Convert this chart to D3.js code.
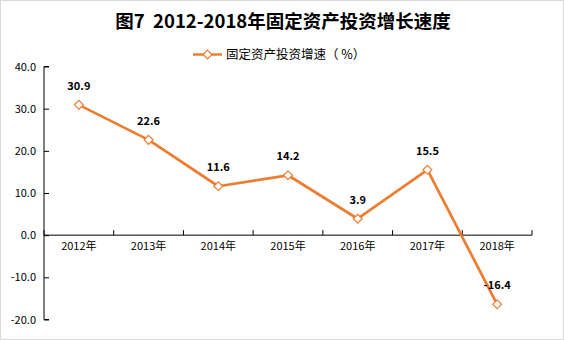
<!DOCTYPE html>
<html>
<head>
<meta charset="utf-8">
<script src="https://cdn.jsdelivr.net/npm/d3@7"></script>
<style>
  html, body { margin: 0; padding: 0; background: #fff; }
  svg { display: block; }
  text { font-family: "Noto Sans CJK SC", "Noto Sans", sans-serif; }
</style>
</head>
<body>
<svg id="chart" width="564" height="340"></svg>
<script>
// Growth rate of fixed asset investment, 2012-2018 (%)
const years = ["2012年", "2013年", "2014年", "2015年", "2016年", "2017年", "2018年"];
const growth = [30.9, 22.6, 11.6, 14.2, 3.9, 15.5, -16.4];
const yTicks = [40, 30, 20, 10, 0, -10, -20];
const titleText = "图7  2012-2018年固定资产投资增长速度";
const seriesName = "固定资产投资增速（ %）";

const W = 564, H = 340;
const color = "#ED7D31";
const svg = d3.select("#chart");

// plain hyphen for negatives, one decimal
const fmt = v => v.toFixed(1);

// outer frame
svg.append("rect")
  .attr("x", 0.5).attr("y", 0.5)
  .attr("width", W - 1).attr("height", H - 1)
  .attr("fill", "#fff").attr("stroke", "#d9d9d9");

const x = d3.scaleBand().domain(years).range([44, 532]);
const y = d3.scaleLinear().domain([-20, 40]).range([319.5, 66.5]);

// title
svg.append("text")
  .attr("x", 283).attr("y", 28)
  .attr("text-anchor", "middle")
  .attr("font-size", 18.5).attr("font-weight", "bold")
  .attr("fill", "#000")
  .style("white-space", "pre")
  .text(titleText);

// legend
const lg = svg.append("g");
lg.append("line")
  .attr("x1", 193).attr("x2", 222).attr("y1", 54.5).attr("y2", 54.5)
  .attr("stroke", color).attr("stroke-width", 2.5);
lg.append("path")
  .attr("d", d3.symbol(d3.symbolDiamond2, 50)())
  .attr("transform", "translate(207.5,54.5)")
  .attr("fill", "#fff").attr("stroke", color).attr("stroke-width", 1.2);
lg.append("text")
  .attr("x", 226).attr("y", 59)
  .attr("font-size", 12.5).attr("fill", "#000")
  .style("white-space", "pre")
  .text(seriesName);

// y axis (ticks pointing inward)
const yAxis = d3.axisRight(y).tickValues(yTicks).tickSize(5).tickFormat(fmt);
const gy = svg.append("g").attr("transform", "translate(44,0)").call(yAxis);
gy.select(".domain").attr("stroke", "#000").attr("d", `M5,${y(40)}H0V${y(-20)}H5`);
gy.selectAll(".tick line").attr("stroke", "#000");
gy.selectAll(".tick text")
  .attr("x", -8).attr("text-anchor", "end")
  .attr("font-size", 11).attr("fill", "#000")
  .attr("font-family", "'Liberation Sans', 'Noto Sans CJK SC', sans-serif");

// x axis at zero (ticks at category boundaries, pointing up)
const gx = svg.append("g").attr("transform", `translate(0,${y(0)})`);
gx.append("line")
  .attr("x1", 44).attr("x2", 532).attr("y1", 0).attr("y2", 0)
  .attr("stroke", "#000");
const bounds = years.map(d => x(d)).concat([x.range()[1]]);
gx.selectAll("line.bt").data(bounds).join("line")
  .attr("class", "bt")
  .attr("x1", d => d).attr("x2", d => d)
  .attr("y1", 0).attr("y2", -5)
  .attr("stroke", "#000");
gx.selectAll("text.xl").data(years).join("text")
  .attr("class", "xl")
  .attr("x", d => x(d) + x.bandwidth() / 2)
  .attr("y", 15)
  .attr("text-anchor", "middle")
  .attr("font-size", 11).attr("fill", "#000")
  .text(d => d);

// series line
const pts = years.map((d, i) => ({ year: d, v: growth[i] }));
const line = d3.line()
  .x(d => x(d.year) + x.bandwidth() / 2)
  .y(d => y(d.v));
svg.append("path")
  .datum(pts)
  .attr("d", line)
  .attr("fill", "none")
  .attr("stroke", color).attr("stroke-width", 2.75)
  .attr("stroke-linejoin", "round");

// markers
svg.selectAll("path.mk").data(pts).join("path")
  .attr("class", "mk")
  .attr("d", d3.symbol(d3.symbolDiamond2, 50)())
  .attr("transform", d => `translate(${x(d.year) + x.bandwidth() / 2},${y(d.v)})`)
  .attr("fill", "#fff").attr("stroke", color).attr("stroke-width", 1.2);

// value labels
svg.selectAll("text.vl").data(pts).join("text")
  .attr("class", "vl")
  .attr("x", d => x(d.year) + x.bandwidth() / 2)
  .attr("y", d => y(d.v) - 15)
  .attr("text-anchor", "middle")
  .attr("font-size", 11).attr("font-weight", "bold")
  .attr("fill", "#000")
  .attr("font-family", "'Liberation Sans', sans-serif")
  .text(d => fmt(d.v));
</script>
</body>
</html>
